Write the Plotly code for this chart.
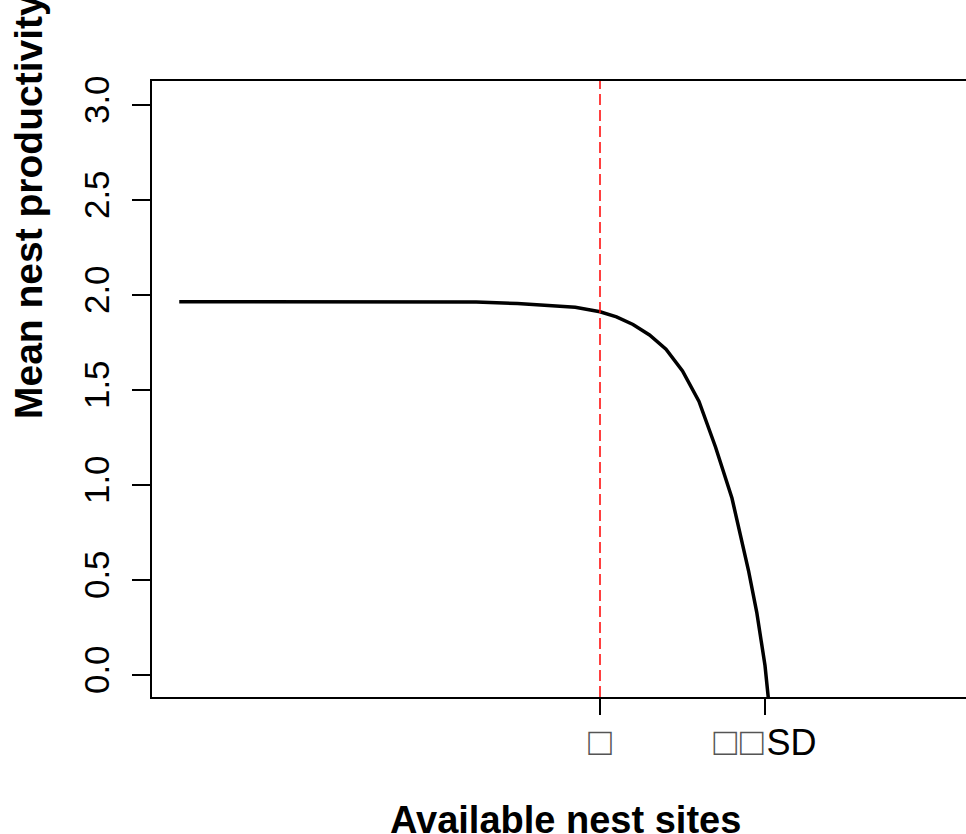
import plotly.graph_objects as go

# Available nest sites, in SD units relative to the mean (mu = 0)
x_sites = [-5.10, -4.0, -3.0, -2.0, -1.5, -1.0, -0.6, -0.3, 0.0, 0.2, 0.4, 0.6,
           0.8, 1.0, 1.2, 1.4, 1.6, 1.7, 1.8, 1.9, 2.0, 2.04]
# Mean nest productivity
y_prod = [1.965, 1.965, 1.965, 1.965, 1.963, 1.955, 1.945, 1.935, 1.912, 1.885,
          1.845, 1.79, 1.715, 1.60, 1.44, 1.20, 0.93, 0.74, 0.55, 0.33, 0.05, -0.12]

mu = 0.0
x_tick_vals = [0.0, 2.0]
BOX = '<span style="font-size:39px;fill:#555555">\u25a1</span>'
x_tick_text = [BOX, BOX + "\u200a" + BOX + "\u200a" + "SD"]
y_tick_vals = [0.0, 0.5, 1.0, 1.5, 2.0, 2.5, 3.0]

FONT = "Liberation Sans, Arial, sans-serif"

fig = go.Figure()
fig.add_trace(go.Scatter(x=x_sites, y=y_prod, mode="lines",
                         line=dict(color="black", width=3.5), showlegend=False,
                         hoverinfo="skip"))

fig.add_shape(type="line", xref="x", yref="paper", x0=mu, x1=mu, y0=0, y1=1,
              line=dict(color="#ff0000", width=1.5, dash="11px,5px"))

fig.update_layout(
    width=966, height=834,
    margin=dict(l=152, r=0, t=81, b=137),
    plot_bgcolor="white", paper_bgcolor="white",
    font=dict(family=FONT, color="black", size=34),
    showlegend=False,
)
fig.update_xaxes(range=[-5.4303, 4.4364], showgrid=False, zeroline=False,
                 showline=True, linecolor="black", linewidth=1.5, mirror=True,
                 tickmode="array", tickvals=x_tick_vals, ticktext=x_tick_text,
                 ticks="outside", ticklen=16, tickwidth=1.5, tickcolor="black",
                 ticklabelstandoff=-3,
                 tickfont=dict(size=36, family=FONT))
fig.update_yaxes(range=[-0.1158, 3.1263], showgrid=False, zeroline=False,
                 showline=True, linecolor="black", linewidth=1.5, mirror=False,
                 tickmode="array", tickvals=y_tick_vals, tickformat=".1f",
                 ticks="outside", ticklen=18, tickwidth=1.5, tickcolor="black",
                 ticklabelstandoff=9,
                 tickangle=-90, tickfont=dict(size=35, family=FONT))

fig.add_annotation(text="<b>Available nest sites</b>", xref="paper", yref="paper",
                   x=(565 - 152) / 814, y=-(820 - 697) / 616, xanchor="center",
                   yanchor="middle", showarrow=False,
                   font=dict(size=38, family=FONT, color="black"))
fig.add_annotation(text="<b>Mean nest productivity</b>", xref="paper", yref="paper",
                   x=-(152 - 28) / 814, y=(697 - 207) / 616, xanchor="center",
                   yanchor="middle", textangle=-90, showarrow=False,
                   font=dict(size=39, family=FONT, color="black"))

fig.write_html("out.html")
